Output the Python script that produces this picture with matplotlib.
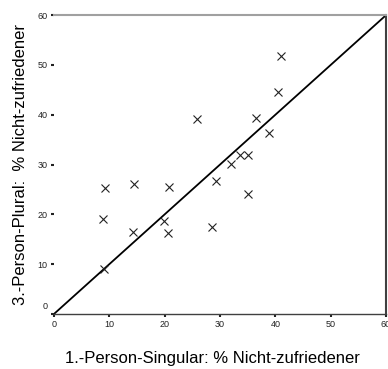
import matplotlib as mpl
import matplotlib.pyplot as plt
import matplotlib.transforms as mtransforms
import numpy as np

mpl.rcParams["font.family"] = ["Liberation Sans", "DejaVu Sans"]

# 1.-Person-Singular vs 3.-Person-Plural (% Nicht-zufriedener)
singular = [9.0, 8.8, 9.3, 14.3, 14.5, 19.9, 20.6, 20.8, 25.8, 28.5,
            29.2, 32.0, 33.6, 35.0, 35.0, 36.5, 38.9, 40.5, 41.0]
plural = [9.0, 19.0, 25.2, 16.4, 26.2, 18.6, 16.3, 25.4, 39.1, 17.5,
          26.7, 30.1, 32.0, 31.9, 24.0, 39.3, 36.3, 44.5, 51.7]
diag = [0, 60]
ticks = [0, 10, 20, 30, 40, 50, 60]

X_LABEL = "1.-Person-Singular: % Nicht-zufriedener"
Y_LABEL = "3.-Person-Plural:  % Nicht-zufriedener"

fig = plt.figure(figsize=(3.88, 3.69), dpi=100)
ax = fig.add_axes([0.139, 0.149, 0.856, 0.81])

ax.plot(diag, diag, color="black", linewidth=1.3, zorder=2)
ax.plot(singular, plural, "x", color="#222222", markersize=5.5,
        markeredgewidth=0.8, zorder=3)

ax.set_xlim(0, 60)
ax.set_ylim(0, 60)
ax.set_xticks(ticks)
ax.set_yticks(ticks)
ax.tick_params(axis="both", labelsize=6.5, length=2, width=1.5,
               direction="out", pad=2.5, colors="#222222")

# the "0" label on the y axis sits a little above its tick
ylabels = ax.get_yticklabels()
ylabels[0].set_transform(ylabels[0].get_transform() +
                         mtransforms.ScaledTranslation(0, 9 / 100, fig.dpi_scale_trans))

ax.spines["left"].set_visible(False)
ax.spines["top"].set_color("#a0a0a0")
ax.spines["top"].set_linewidth(1.5)
ax.spines["right"].set_color("#404040")
ax.spines["right"].set_linewidth(1.5)
ax.spines["bottom"].set_color("#404040")
ax.spines["bottom"].set_linewidth(1.0)

ax.set_xlabel(X_LABEL, fontsize=12, labelpad=16)
ax.xaxis.set_label_coords(0.476, -0.125)
ax.set_ylabel(Y_LABEL, fontsize=12, labelpad=7)

fig.savefig("out.png", dpi=100)
